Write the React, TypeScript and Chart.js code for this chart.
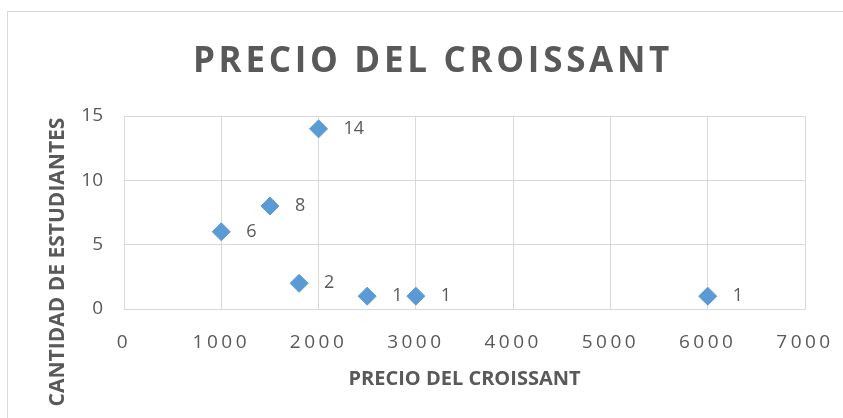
import React, { useEffect, useRef } from 'react';
import { Chart, registerables, LinearScale } from 'chart.js';

Chart.register(...registerables);

const CHART_TITLE = 'PRECIO DEL CROISSANT';
const X_TITLE = 'PRECIO DEL CROISSANT';
const Y_TITLE = 'CANTIDAD DE ESTUDIANTES';

const precios = [1000, 1500, 1800, 2000, 2500, 3000, 6000];
const estudiantes = [6, 8, 2, 14, 1, 1, 1];

const xMin = 0;
const xMax = 7000;
const xStep = 1000;
const yMin = 0;
const yMax = 15;
const yStep = 5;

const GRAY_TEXT = '#595959';
const GRID = '#d9d9d9';
const BLUE = '#5B9BD5';
const FONT = '"Open Sans", "Noto Sans", sans-serif';

class SpacedLinearScale extends LinearScale {
  static id = 'spacedLinear';
  static defaults = LinearScale.defaults;
  drawLabels(area: any) {
    const ctx = (this as any).ctx as CanvasRenderingContext2D;
    ctx.save();
    (ctx as any).letterSpacing = '3.5px';
    super.drawLabels(area);
    ctx.restore();
  }
}
Chart.register(SpacedLinearScale as any);

const decorPlugin = {
  id: 'decor',
  beforeDraw(chart: any) {
    const ctx = chart.ctx as CanvasRenderingContext2D;
    ctx.save();
    ctx.strokeStyle = GRID;
    ctx.lineWidth = 1;
    ctx.strokeRect(7.5, 11.5, 1000, 600);
    ctx.restore();
  },
  afterDraw(chart: any) {
    const ctx = chart.ctx as CanvasRenderingContext2D;
    ctx.save();
    (ctx as any).letterSpacing = '3.7px';
    ctx.font = `bold 35px ${FONT}`;
    ctx.fillStyle = GRAY_TEXT;
    ctx.textAlign = 'center';
    ctx.textBaseline = 'middle';
    ctx.fillText(CHART_TITLE, 433, 62);
    ctx.restore();
    ctx.save();
    ctx.translate(58, 262);
    ctx.rotate(-Math.PI / 2);
    ctx.font = `bold 21px ${FONT}`;
    ctx.fillStyle = GRAY_TEXT;
    ctx.textAlign = 'center';
    ctx.textBaseline = 'middle';
    ctx.fillText(Y_TITLE, 0, 0);
    ctx.restore();
  },
  afterDatasetsDraw(chart: any) {
    const ctx = chart.ctx as CanvasRenderingContext2D;
    const meta = chart.getDatasetMeta(0);
    ctx.save();
    ctx.font = `18px ${FONT}`;
    ctx.fillStyle = GRAY_TEXT;
    ctx.textAlign = 'left';
    ctx.textBaseline = 'middle';
    meta.data.forEach((el: any, i: number) => {
      ctx.fillText(String(estudiantes[i]), el.x + 25, el.y);
    });
    ctx.restore();
  },
};

export default function App() {
  const ref = useRef<HTMLCanvasElement>(null);
  useEffect(() => {
    if (!ref.current) return;
    const chart = new Chart(ref.current, {
      type: 'scatter',
      data: {
        datasets: [
          {
            data: precios.map((x, i) => ({ x, y: estudiantes[i] })),
            pointStyle: 'rectRot',
            pointRadius: 9,
            pointHoverRadius: 9,
            backgroundColor: BLUE,
            borderColor: BLUE,
            borderWidth: 1,
          },
        ],
      },
      options: {
        responsive: false,
        animation: false,
        layout: { padding: { top: 116, right: 38, left: 0, bottom: 0 } },
        plugins: {
          legend: { display: false },
          title: { display: false },
          tooltip: { enabled: false },
        },
        scales: {
          x: {
            type: 'spacedLinear' as any,
            min: xMin,
            max: xMax,
            ticks: {
              stepSize: xStep,
              autoSkip: false,
              maxRotation: 0,
              padding: 22,
              color: GRAY_TEXT,
              font: { family: FONT, size: 19 },
              callback: (v: any) => String(v),
            },
            grid: { color: GRID, drawTicks: false },
            border: { color: GRID },
            title: {
              display: true,
              text: X_TITLE,
              color: GRAY_TEXT,
              font: { family: FONT, size: 20, weight: 'bold' },
              padding: { top: 0, bottom: 27 },
            },
            afterFit: (s: any) => {
              s.height = 109;
              s.paddingLeft = 0;
              s.paddingRight = 0;
            },
          },
          y: {
            type: 'linear',
            min: yMin,
            max: yMax,
            ticks: {
              stepSize: yStep,
              padding: 21,
              color: GRAY_TEXT,
              font: { family: FONT, size: 19 },
              callback: (v: any) => String(v),
            },
            grid: { color: GRID, drawTicks: false },
            border: { color: GRID },
            afterFit: (s: any) => {
              s.width = 124;
              s.paddingTop = 0;
              s.paddingBottom = 0;
            },
          },
        },
      } as any,
      plugins: [decorPlugin],
    });
    return () => chart.destroy();
  }, []);
  return (
    <div style={{ position: 'absolute', left: 0, top: 0, width: 843, height: 418, background: '#fff' }}>
      <canvas ref={ref} width={843} height={418} style={{ display: 'block' }} />
    </div>
  );
}
